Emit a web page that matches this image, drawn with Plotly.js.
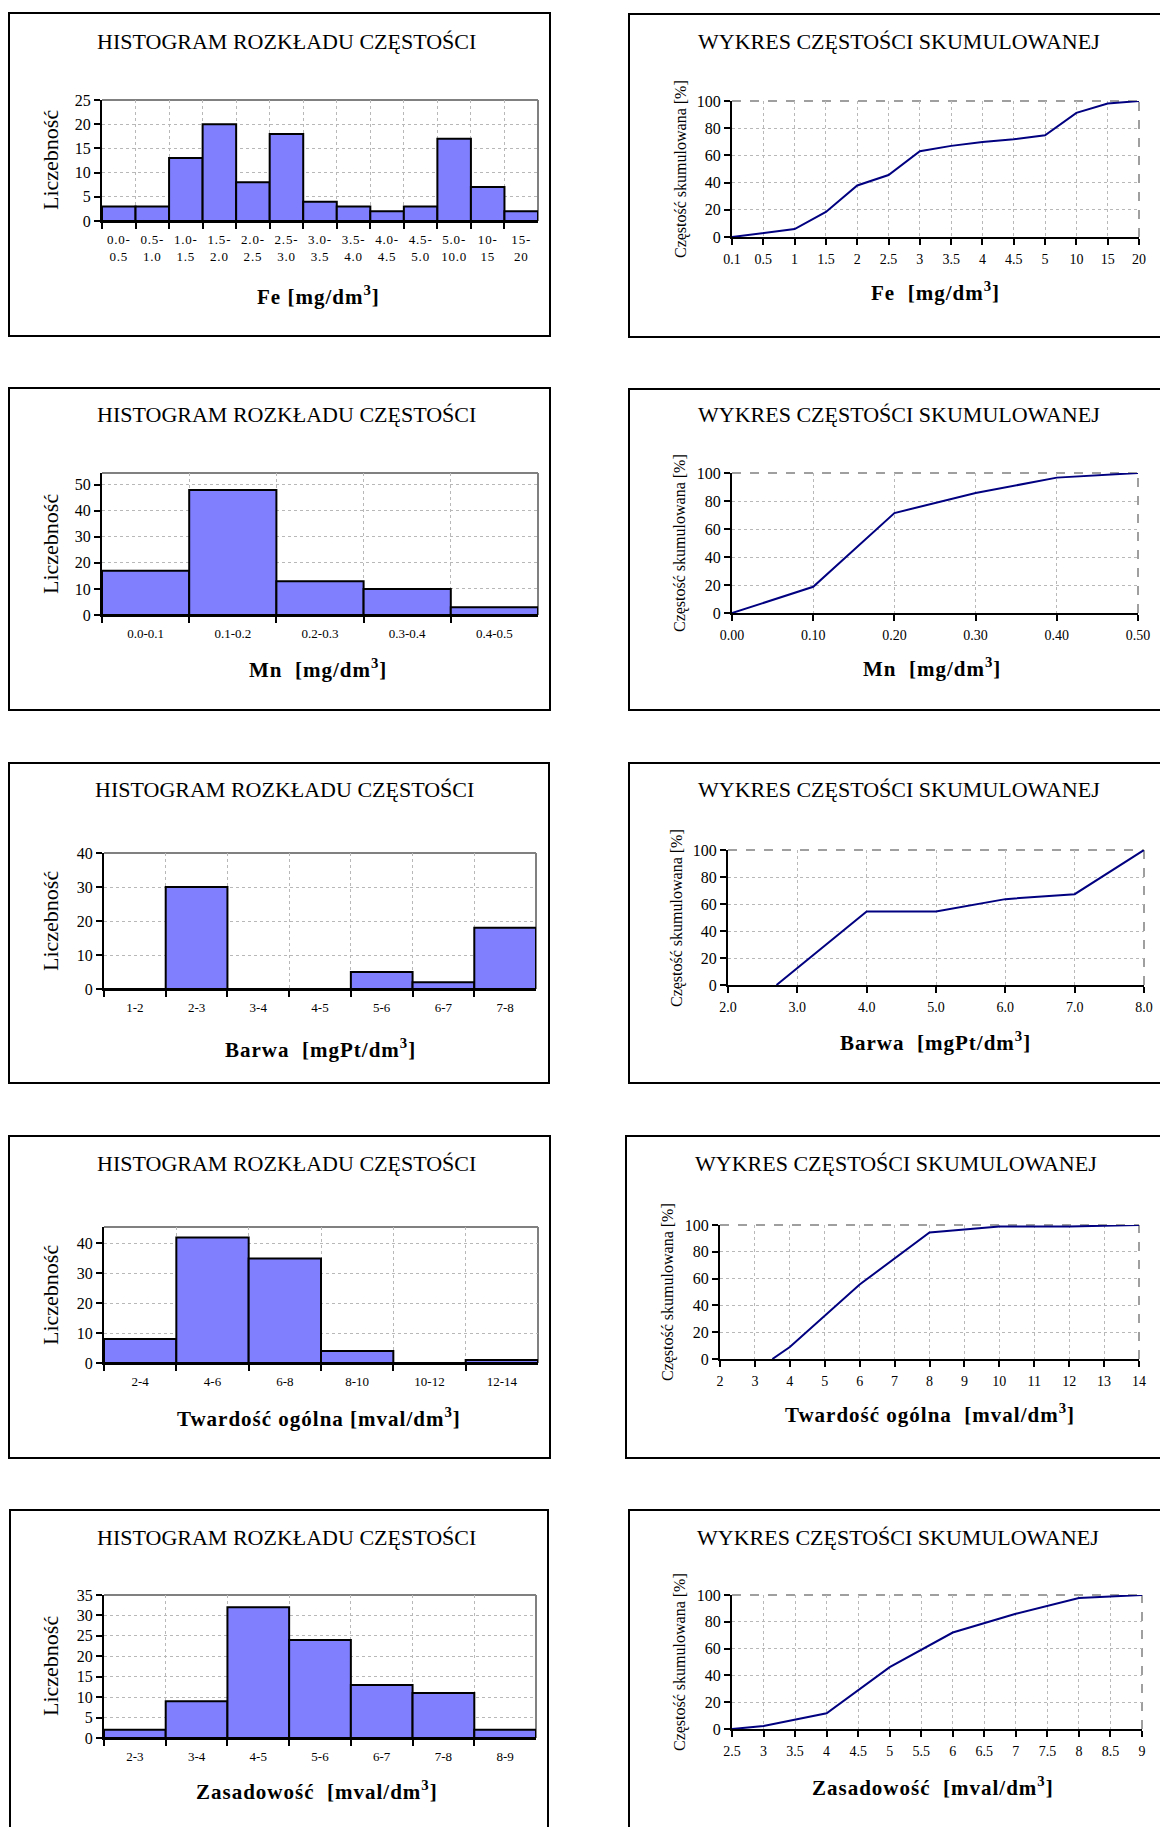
<!DOCTYPE html>
<html>
<head>
<meta charset="utf-8">
<script src="https://cdn.plot.ly/plotly-3.0.1.min.js"></script>
<style>
  html, body { margin: 0; padding: 0; background: #fff; }
  #chart { width: 1160px; height: 1827px; }
  .xtick text { letter-spacing: 0.8px; }
  text.annotation-text[style*="bold"] { letter-spacing: 1px; }
</style>
</head>
<body>
<div id="chart"></div>
<script>
// ---------------- DATA ----------------
const feBins = ["0.0-0.5","0.5-1.0","1.0-1.5","1.5-2.0","2.0-2.5","2.5-3.0","3.0-3.5","3.5-4.0","4.0-4.5","4.5-5.0","5.0-10.0","10-15","15-20"];
const feCounts = [3,3,13,20,8,18,4,3,2,3,17,7,2];
const feCumX = ["0.1","0.5","1","1.5","2","2.5","3","3.5","4","4.5","5","10","15","20"];
const feCumPct = [0,2.9,5.8,18.4,37.9,45.6,63.1,67.0,69.9,71.8,74.8,91.3,98.1,100];

const mnBins = ["0.0-0.1","0.1-0.2","0.2-0.3","0.3-0.4","0.4-0.5"];
const mnCounts = [17,48,13,10,3];
const mnCumX = [0,0.1,0.2,0.3,0.4,0.5];
const mnCumPct = [0,18.7,71.4,85.7,96.7,100];
const mnTickVals = [0,0.1,0.2,0.3,0.4,0.5];
const mnTickText = ["0.00","0.10","0.20","0.30","0.40","0.50"];

const barwaBins = ["1-2","2-3","3-4","4-5","5-6","6-7","7-8"];
const barwaCounts = [0,30,0,0,5,2,18];
const barwaCumX = [2.7,4,5,6,7,8];
const barwaCumPct = [0,54.5,54.5,63.6,67.3,100];
const barwaTickVals = [2,3,4,5,6,7,8];
const barwaTickText = ["2.0","3.0","4.0","5.0","6.0","7.0","8.0"];

const twBins = ["2-4","4-6","6-8","8-10","10-12","12-14"];
const twCounts = [8,42,35,4,0,1];
const twCumX = [3.5,4,6,8,10,12,14];
const twCumPct = [0,8.9,55.6,94.4,98.9,98.9,100];
const twTickVals = [2,3,4,5,6,7,8,9,10,11,12,13,14];
const twTickText = ["2","3","4","5","6","7","8","9","10","11","12","13","14"];

const zasBins = ["2-3","3-4","4-5","5-6","6-7","7-8","8-9"];
const zasCounts = [2,9,32,24,13,11,2];
const zasCumX = [2.5,3,4,5,6,7,8,9];
const zasCumPct = [0,2.2,11.8,46.2,72.0,86.0,97.8,100];
const zasTickVals = [2.5,3,3.5,4,4.5,5,5.5,6,6.5,7,7.5,8,8.5,9];
const zasTickText = ["2.5","3","3.5","4","4.5","5","5.5","6","6.5","7","7.5","8","8.5","9"];

const histTitle = "HISTOGRAM ROZKŁADU CZĘSTOŚCI";
const cumTitle = "WYKRES CZĘSTOŚCI SKUMULOWANEJ";
const histYTitle = "Liczebność";
const cumYTitle = "Częstość skumulowana [%]";

// ---------------- LAYOUT HELPERS ----------------
const W = 1160, H = 1827;
const FONT = "Liberation Serif, Times New Roman, serif";
const BAR = "#8080FF", LINE = "#000080";

const charts = [
  {kind:"hist", bins:feBins, counts:feCounts, twoLine:true, yr:[0,25], dt:5,
   plot:[102,538,100,221], frame:[9,13,550,336], t:[286,41], xt:[318,295], yt:[50,160],
   xtitle:"Fe [mg/dm<sup>3</sup>]"},
  {kind:"cumcat", x:feCumX, y:feCumPct,
   plot:[732,1139,101,237], frame:[629,14,1200,337], t:[899,41], xt:[935,292], yt:[681,169],
   xtitle:"Fe\u00a0\u00a0[mg/dm<sup>3</sup>]"},
  {kind:"hist", bins:mnBins, counts:mnCounts, yr:[0,54.5], dt:10,
   plot:[102,538,473,615], frame:[9,388,550,710], t:[286,415], xt:[318,668], yt:[50,544],
   xtitle:"Mn\u00a0\u00a0[mg/dm<sup>3</sup>]"},
  {kind:"cum", x:mnCumX, y:mnCumPct, xr:[0,0.5], tv:mnTickVals, tt:mnTickText,
   plot:[732,1138,473,613], frame:[629,389,1200,710], t:[899,415], xt:[932,667], yt:[680,543],
   xtitle:"Mn\u00a0\u00a0[mg/dm<sup>3</sup>]"},
  {kind:"hist", bins:barwaBins, counts:barwaCounts, yr:[0,40], dt:10,
   plot:[104,536,853,989], frame:[9,763,549,1083], t:[284,789], xt:[320,1048], yt:[50,921],
   xtitle:"Barwa\u00a0\u00a0[mgPt/dm<sup>3</sup>]"},
  {kind:"cum", x:barwaCumX, y:barwaCumPct, xr:[2,8], tv:barwaTickVals, tt:barwaTickText,
   plot:[728,1144,850,985], frame:[629,763,1200,1083], t:[899,789], xt:[935,1041], yt:[677,918],
   xtitle:"Barwa\u00a0\u00a0[mgPt/dm<sup>3</sup>]"},
  {kind:"hist", bins:twBins, counts:twCounts, yr:[0,45.5], dt:10,
   plot:[104,538,1227,1363], frame:[9,1136,550,1458], t:[286,1163], xt:[319,1417], yt:[50,1295],
   xtitle:"Twardość ogólna [mval/dm<sup>3</sup>]"},
  {kind:"cum", x:twCumX, y:twCumPct, xr:[2,14], tv:twTickVals, tt:twTickText,
   plot:[720,1139,1225,1359], frame:[626,1136,1200,1458], t:[896,1163], xt:[930,1413], yt:[668,1292],
   xtitle:"Twardość ogólna\u00a0\u00a0[mval/dm<sup>3</sup>]"},
  {kind:"hist", bins:zasBins, counts:zasCounts, yr:[0,35], dt:5,
   plot:[104,536,1595,1738], frame:[10,1510,548,1900], t:[286,1537], xt:[317,1790], yt:[50,1666],
   xtitle:"Zasadowość\u00a0\u00a0[mval/dm<sup>3</sup>]"},
  {kind:"cum", x:zasCumX, y:zasCumPct, xr:[2.5,9], tv:zasTickVals, tt:zasTickText,
   plot:[732,1142,1595,1729], frame:[629,1510,1200,1900], t:[898,1537], xt:[933,1786], yt:[680,1662],
   xtitle:"Zasadowość\u00a0\u00a0[mval/dm<sup>3</sup>]"}
];

const px = v => v / W;
const py = v => 1 - v / H;

const traces = [];
const layout = {
  width: W, height: H,
  margin: {l:0, r:0, t:0, b:0},
  paper_bgcolor: "#fff", plot_bgcolor: "rgba(0,0,0,0)",
  font: {family: FONT, color: "#000"},
  showlegend: false,
  bargap: 0,
  shapes: [], annotations: []
};

charts.forEach((c, i) => {
  const n = i === 0 ? "" : String(i + 1);
  const xName = "x" + n, yName = "y" + n;
  const [L, R, T, B] = c.plot;
  const isHist = c.kind === "hist";
  const common = {
    showline: true, linecolor: "#000", linewidth: 2,
    ticks: "outside", ticklen: 6, tickwidth: 2, tickcolor: "#000",
    showgrid: true, gridcolor: "#b8b8b8", gridwidth: 1, griddash: "dot",
    zeroline: false, fixedrange: true
  };
  const xa = Object.assign({}, common, {
    domain: [px(L), px(R)], anchor: yName,
    tickfont: {family: FONT, size: isHist ? 13 : 14, color: "#000"},
    ticklabelstandoff: isHist ? 5 : 2
  });
  const ya = Object.assign({}, common, {
    domain: [py(B), py(T)], anchor: xName,
    tickfont: {family: FONT, size: 16, color: "#000"}
  });

  if (isHist) {
    const labels = c.twoLine ? c.bins.map(b => b.replace("-", "-<br>")) : c.bins;
    traces.push({
      type: "bar", x: labels, y: c.counts, xaxis: xName, yaxis: yName,
      width: 1, marker: {color: BAR, line: {color: "#000", width: 2}},
      hoverinfo: "skip"
    });
    Object.assign(xa, {type: "category", tickson: "boundaries", range: [-0.5, c.bins.length - 0.5]});
    Object.assign(ya, {range: c.yr, dtick: c.dt, tick0: 0});
  } else {
    traces.push({
      type: "scatter", mode: "lines", x: c.x, y: c.y, xaxis: xName, yaxis: yName,
      line: {color: LINE, width: 2}, hoverinfo: "skip", cliponaxis: false
    });
    if (c.kind === "cumcat") {
      Object.assign(xa, {type: "category", range: [0, c.x.length - 1]});
    } else {
      Object.assign(xa, {type: "linear", range: c.xr, tickmode: "array", tickvals: c.tv, ticktext: c.tt});
    }
    Object.assign(ya, {range: [0, 100], dtick: 20, tick0: 0});
  }
  layout["xaxis" + n] = xa;
  layout["yaxis" + n] = ya;

  // top and right border of the plot area (grey; dashed on the cumulative charts)
  const border = isHist ? {color: "#808080", width: 2} : {color: "#808080", width: 1.5, dash: "dash"};
  layout.shapes.push({type: "line", xref: xName + " domain", yref: yName + " domain",
    x0: 0, x1: 1, y0: 1, y1: 1, line: border, layer: "below"});
  layout.shapes.push({type: "line", xref: xName + " domain", yref: yName + " domain",
    x0: 1, x1: 1, y0: 0, y1: 1, line: border, layer: "below"});

  // outer frame
  const [fx0, fy0, fx1, fy1] = c.frame;
  layout.shapes.push({type: "rect", xref: "paper", yref: "paper",
    x0: px(fx0), x1: px(fx1), y0: py(fy1), y1: py(fy0),
    line: {color: "#000", width: 2}, fillcolor: "rgba(0,0,0,0)", layer: "above"});

  layout.annotations.push({
    xref: "paper", yref: "paper", x: px(c.t[0]), y: py(c.t[1]),
    xanchor: "center", yanchor: "middle", showarrow: false,
    text: isHist ? histTitle : cumTitle,
    font: {family: FONT, size: 22, color: "#000"}
  });
  layout.annotations.push({
    xref: "paper", yref: "paper", x: px(c.xt[0]), y: py(c.xt[1]),
    xanchor: "center", yanchor: "middle", showarrow: false,
    text: c.xtitle,
    font: {family: FONT, size: 21, color: "#000", weight: "bold"}
  });
  layout.annotations.push({
    xref: "paper", yref: "paper", x: px(c.yt[0]), y: py(c.yt[1]),
    xanchor: "center", yanchor: "middle", showarrow: false, textangle: -90,
    text: isHist ? histYTitle : cumYTitle,
    font: {family: FONT, size: isHist ? 22 : 16, color: "#000"}
  });
});

Plotly.newPlot("chart", traces, layout, {staticPlot: true, displayModeBar: false});
</script>
</body>
</html>
